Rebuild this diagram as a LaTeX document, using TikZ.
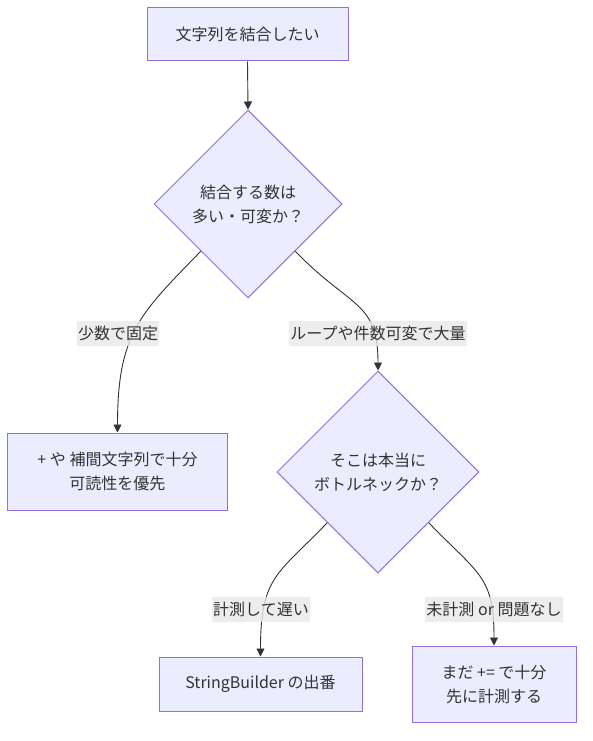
\documentclass[tikz,border=0pt]{standalone}
\usepackage{fontspec}
\setmainfont{Noto Sans CJK JP}
\usetikzlibrary{shapes.geometric,arrows.meta}
\definecolor{nodefill}{HTML}{ECECFF}
\definecolor{nodeline}{HTML}{9370DB}
\definecolor{ink}{HTML}{333333}
\definecolor{lblbg}{HTML}{E8E8E8}
\begin{document}
\begin{tikzpicture}[x=1pt,y=-1pt,
 box/.style={draw=nodeline, fill=nodefill, line width=1pt, text=ink, font=\fontsize{16}{24}\selectfont, align=center, inner sep=0pt},
 dec/.style={box, diamond, shape aspect=1},
 lbl/.style={fill=lblbg, fill opacity=0.8, text opacity=1, text=ink, font=\fontsize{16}{20}\selectfont, inner xsep=1pt, inner ysep=0pt, minimum height=25pt},
 edge/.style={draw=ink, line width=0.9pt, -{Triangle[length=8pt,width=8pt]}}]
\useasboundingbox (0,0) rectangle (592,741);
\node[box, minimum width=201pt, minimum height=53pt] (a) at (247.5,34.5) {文字列を結合したい};
\node[dec, minimum width=188pt, minimum height=188pt] (b) at (248,204) {結合する数は\\多い・可変か？};
\node[box, minimum width=220pt, minimum height=77pt] (c) at (117.5,471.5) {+ や 補間文字列で十分\\可読性を優先};
\node[dec, minimum width=202pt, minimum height=202pt] (d) at (378,472) {そこは本当に\\ボトルネックか？};
\node[box, minimum width=203pt, minimum height=54pt] (e) at (260.5,684) {StringBuilder の出番};
\node[box, minimum width=164pt, minimum height=76pt] (f) at (494,684) {まだ += で十分\\先に計測する};
\draw[edge] (a.south) -- (b.north);
\draw[edge] (b.south west) .. controls +(-60,62) and +(0,-100) .. (c.north);
\draw[edge] (b.south east) .. controls +(55,57) and +(0,-70) .. (d.north);
\draw[edge] (d.south west) .. controls +(-50,52) and +(0,-80) .. (e.north);
\draw[edge] (d.south east) .. controls +(50,52) and +(0,-70) .. (f.north);
\node[lbl] (l1) at (118,333) {少数で固定};
\node[lbl] (l2) at (378,333) {ループや件数可変で大量};
\node[lbl] (l3) at (261,609) {計測して遅い};
\node[lbl] (l4) at (494,609) {未計測 or 問題なし};
\end{tikzpicture}
\end{document}
